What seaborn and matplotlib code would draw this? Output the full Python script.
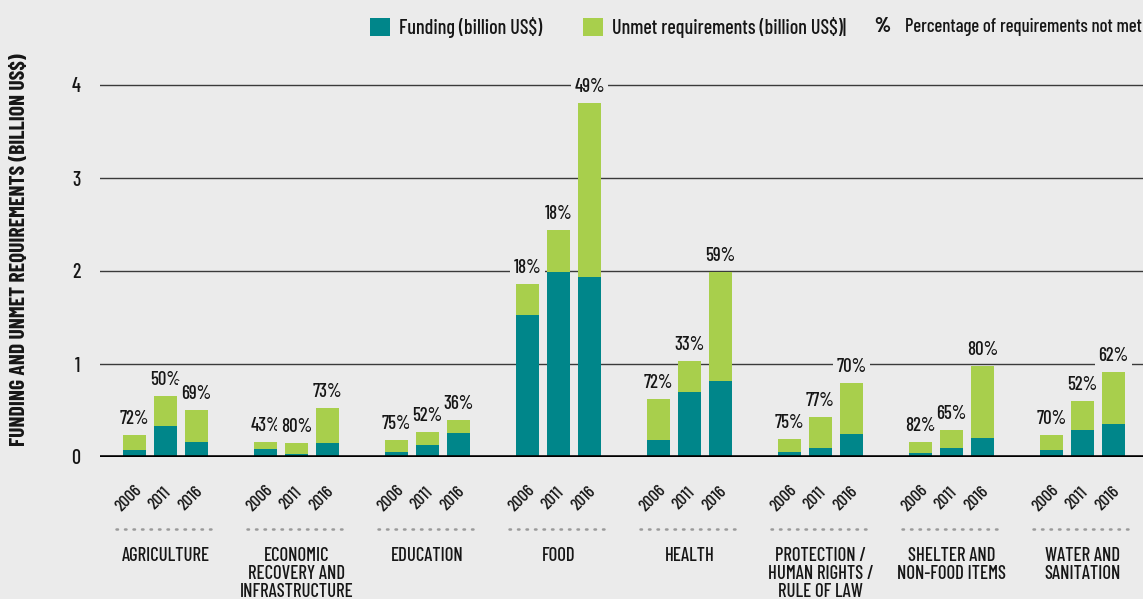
import numpy as np
import pandas as pd
import matplotlib
matplotlib.use("Agg")
import matplotlib.pyplot as plt
import matplotlib.transforms as mtransforms
from matplotlib import font_manager as fm
from matplotlib.patches import Patch
import seaborn as sns

# ---------------- data ----------------
categories = ["AGRICULTURE", "ECONOMIC\nRECOVERY AND\nINFRASTRUCTURE", "EDUCATION", "FOOD",
              "HEALTH", "PROTECTION /\nHUMAN RIGHTS /\nRULE OF LAW",
              "SHELTER AND\nNON-FOOD ITEMS", "WATER AND\nSANITATION"]
years = ["2006", "2011", "2016"]

funding_2006 = [0.075, 0.09, 0.05, 1.53, 0.18, 0.05, 0.04, 0.07]
funding_2011 = [0.33, 0.03, 0.13, 1.99, 0.70, 0.10, 0.10, 0.29]
funding_2016 = [0.16, 0.15, 0.26, 1.94, 0.82, 0.25, 0.20, 0.35]

unmet_2006 = [0.165, 0.07, 0.13, 0.33, 0.44, 0.14, 0.12, 0.17]
unmet_2011 = [0.33, 0.12, 0.14, 0.45, 0.33, 0.33, 0.19, 0.31]
unmet_2016 = [0.35, 0.38, 0.14, 1.87, 1.17, 0.55, 0.78, 0.56]

pct_2006 = ["72%", "43%", "75%", "18%", "72%", "75%", "82%", "70%"]
pct_2011 = ["50%", "80%", "52%", "18%", "33%", "77%", "65%", "52%"]
pct_2016 = ["69%", "73%", "36%", "49%", "59%", "70%", "80%", "62%"]

funding = {"2006": funding_2006, "2011": funding_2011, "2016": funding_2016}
unmet = {"2006": unmet_2006, "2011": unmet_2011, "2016": unmet_2016}
pcts = {"2006": pct_2006, "2011": pct_2011, "2016": pct_2016}

rows = []
for y in years:
    for c, f, u in zip(categories, funding[y], unmet[y]):
        rows.append({"category": c, "year": y, "funding": f, "unmet": u, "total": f + u})
df = pd.DataFrame(rows)

# ---------------- style ----------------
BG = "#ebebeb"
TEAL = "#00868a"
GREEN = "#a8cf4c"
TXT = "#161616"
WT = "medium"

avail = {f.name for f in fm.fontManager.ttflist}
prefs = ["Barlow Condensed", "Roboto Condensed", "PT Sans Narrow", "Archivo Narrow",
         "Open Sans Condensed", "Liberation Sans Narrow", "DejaVu Sans"]
base_font = next(f for f in prefs if f in avail or f == "DejaVu Sans")
plt.rcParams["font.family"] = [base_font, "DejaVu Sans"]
plt.rcParams["text.color"] = TXT

fig = plt.figure(figsize=(11.43, 5.99), dpi=100, facecolor=BG)
ax = fig.add_axes([100 / 1143, (599 - 457) / 599, 1043 / 1143, 4.2 * 93 / 599])
ax.set_facecolor(BG)

W, GAP = 0.71, 0.26
sns.barplot(data=df, x="category", y="total", hue="year", hue_order=years, order=categories,
            palette=[GREEN] * 3, width=W, gap=GAP, saturation=1, legend=False, ax=ax,
            errorbar=None, zorder=2)
sns.barplot(data=df, x="category", y="funding", hue="year", hue_order=years, order=categories,
            palette=[TEAL] * 3, width=W, gap=GAP, saturation=1, legend=False, ax=ax,
            errorbar=None, zorder=2)

for i, y in enumerate(years):
    ax.bar_label(ax.containers[i], labels=pcts[y], padding=5, fontsize=13.5, color=TXT,
                 fontweight=WT,
                 bbox=dict(facecolor=BG, edgecolor="none", pad=2.5), zorder=1.5)

ax.set_xlim(-0.5, (1143 - 165.5) / 131)
ax.set_ylim(0, 4.2)
ax.set_yticks([0, 1, 2, 3, 4])
ax.yaxis.grid(True, color="#3a3a3a", linewidth=1.0, zorder=0.5)
ax.set_axisbelow(True)
ax.axhline(0, color="black", linewidth=2.6, zorder=3)
for s in ax.spines.values():
    s.set_visible(False)
ax.tick_params(axis="y", length=0, pad=14, labelsize=14.5, labelcolor=TXT)
ax.tick_params(axis="x", length=0, pad=65, labelsize=13.5, labelcolor=TXT)
for lab in ax.get_xticklabels():
    lab.set_linespacing(1.0)
    lab.set_va("top")
    lab.set_fontweight(WT)
for lab in ax.get_yticklabels():
    lab.set_fontweight(WT)
ax.set_xlabel("")
ax.set_ylabel("")

# year labels under each bar
blend = mtransforms.blended_transform_factory(ax.transData, ax.transAxes)
yr_trans = mtransforms.offset_copy(blend, fig=fig, x=-6, y=-41, units="dots")
for i, y in enumerate(years):
    for p in ax.containers[i]:
        cx = p.get_x() + p.get_width() / 2
        ax.text(cx, 0, y, transform=yr_trans, rotation=45, ha="center", va="center",
                fontsize=12.5, fontweight=WT, color=TXT, clip_on=False)

# dotted separators
dot_trans = mtransforms.offset_copy(blend, fig=fig, x=0, y=-72, units="dots")
for i in range(len(categories)):
    ax.plot([i - 0.38, i + 0.38], [0, 0], transform=dot_trans, color="#9a9a9a",
            linewidth=1.8, linestyle=(0, (0.6, 2.8)), dash_capstyle="round", clip_on=False)

# y label
fig.text(20 / 1143, 1 - 250 / 599, "FUNDING AND UNMET REQUIREMENTS (BILLION US$)",
         rotation=90, ha="center", va="center", fontsize=15.5, fontweight="bold", color=TXT)

# legend
handles = [Patch(facecolor=TEAL, edgecolor="none"), Patch(facecolor=GREEN, edgecolor="none")]
fig.legend(handles, ["Funding (billion US$)", "Unmet requirements (billion US$)|"],
           loc="center left", bbox_to_anchor=(370 / 1143, 1 - 27 / 599), ncol=2,
           frameon=False, prop={"size": 14.5, "weight": WT}, handlelength=1.0,
           handleheight=1.0, handletextpad=0.45, columnspacing=2.0, borderaxespad=0,
           borderpad=0)
fig.text(874 / 1143, 1 - 27 / 599, "%", ha="left", va="center", fontsize=15,
         fontweight="heavy", color=TXT)
fig.text(905 / 1143, 1 - 27 / 599, "Percentage of requirements not met", ha="left",
         va="center", fontsize=13.5, fontweight=WT, color=TXT)

fig.savefig("out.png", dpi=100, facecolor=BG)
